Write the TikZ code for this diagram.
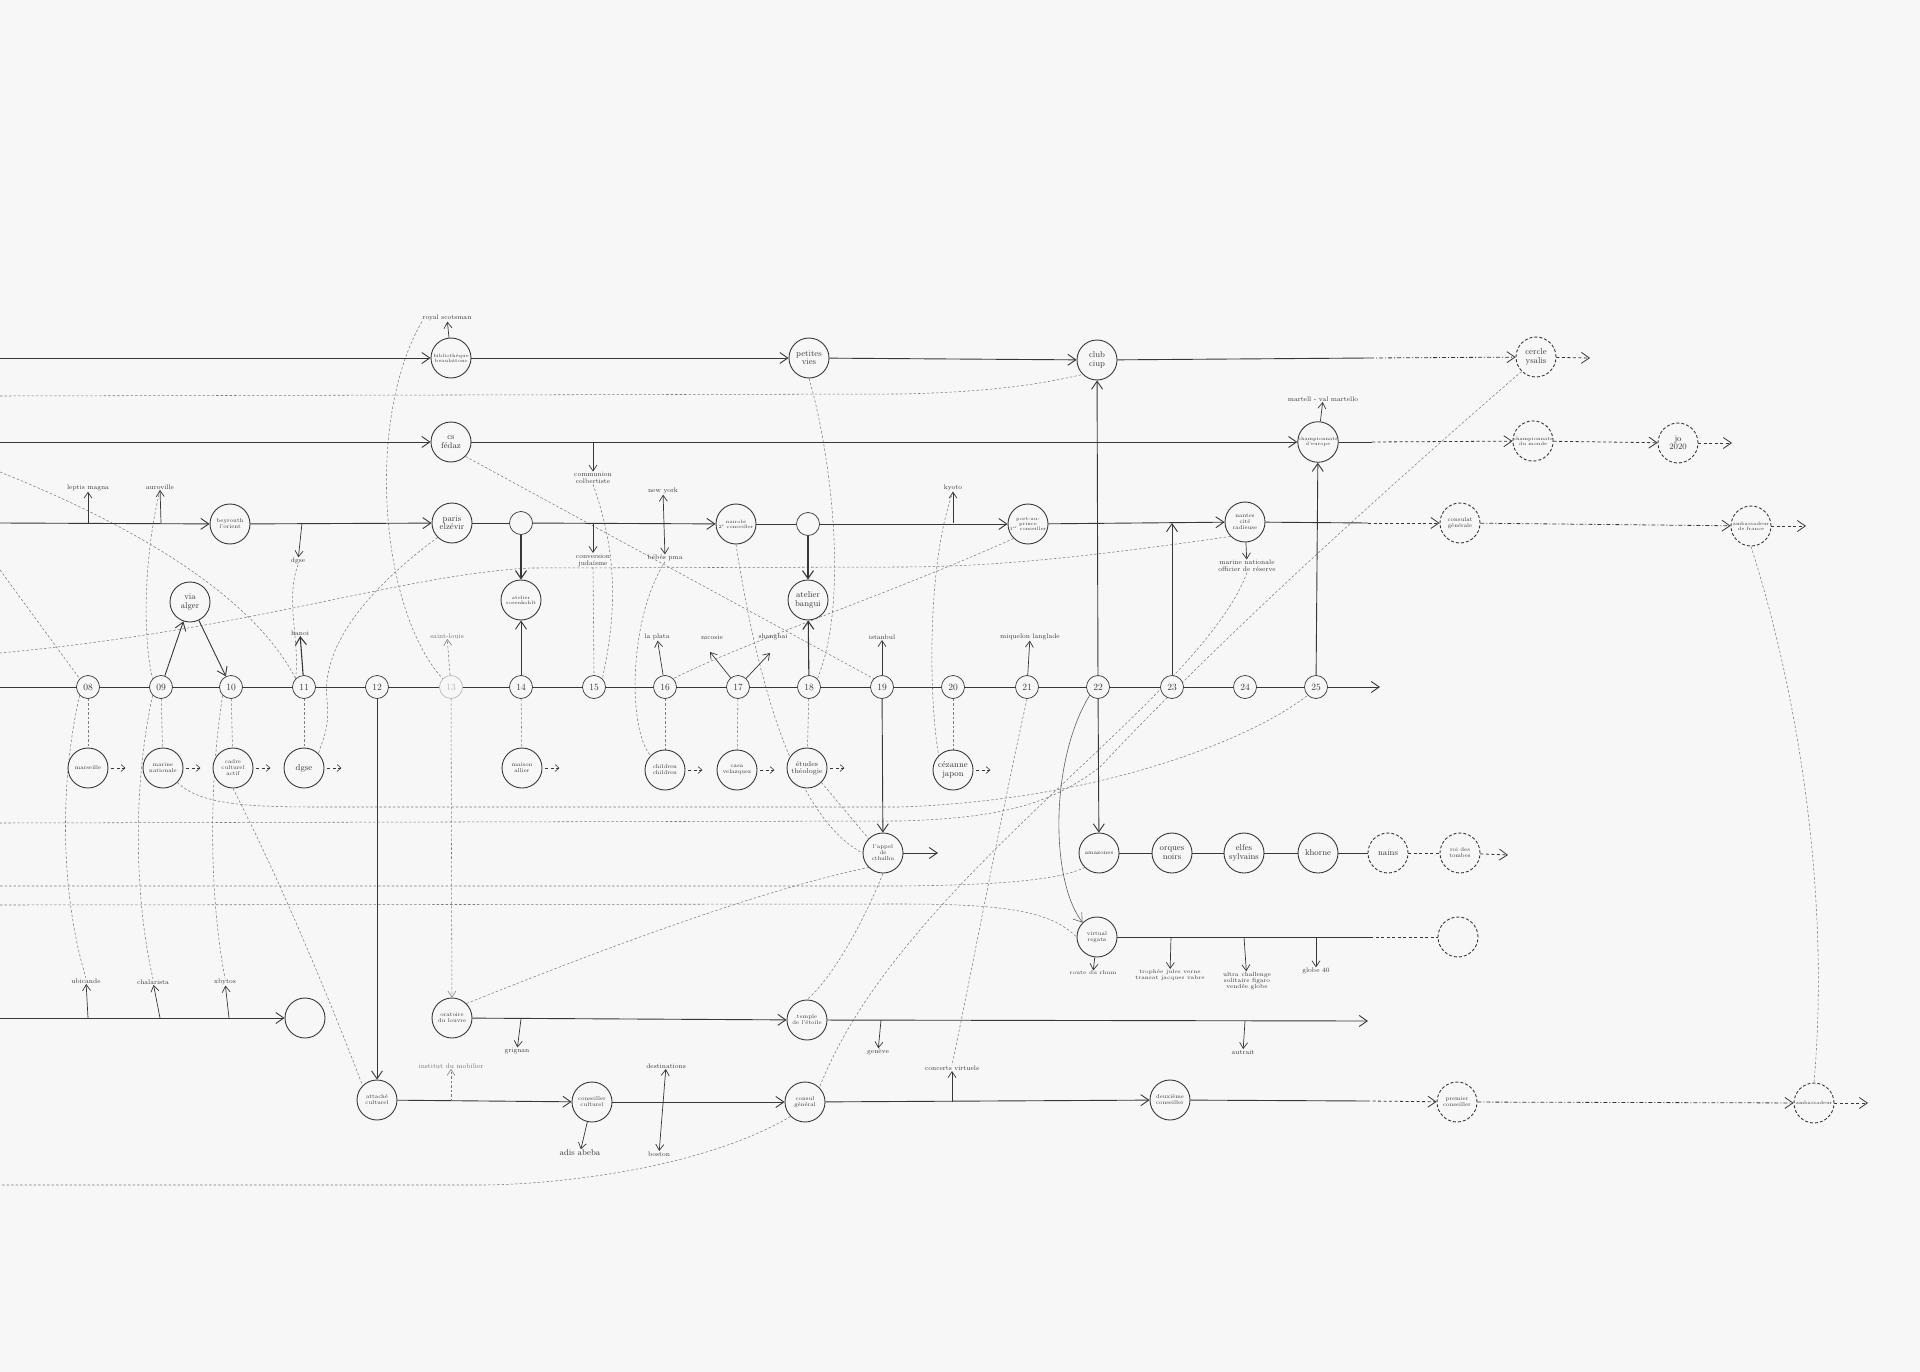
\documentclass[tikz,border=0pt]{standalone}
\usepackage{fontspec}
\usetikzlibrary{arrows.meta,calc}
\definecolor{ink}{RGB}{55,55,55}
\definecolor{faint}{RGB}{125,125,125}
\definecolor{paper}{RGB}{247,247,247}
\pgfdeclarelayer{bg}
\pgfsetlayers{bg,main}
\tikzset{
 ln/.style={draw=ink, line width=0.9pt},
 ar/.style={ln, -{Straight Barb[length=8pt,width=11pt]}},
 sar/.style={draw=ink, line width=0.7pt, -{Straight Barb[length=6pt,width=8pt]}},
 dar/.style={draw=ink, line width=0.7pt, {Straight Barb[length=6pt,width=8pt]}-{Straight Barb[length=6pt,width=8pt]}},
 big/.style={circle, draw=ink, line width=0.9pt, minimum size=40pt, inner sep=0pt, align=center, fill=paper, text=ink, font=\fontsize{8.5}{8.5}\selectfont},
 sbig/.style={big, font=\fontsize{5.6}{6}\selectfont},
 xbig/.style={big, font=\fontsize{4.8}{5.2}\selectfont},
 dbig/.style={big, dash pattern=on 3pt off 2pt},
 sdbig/.style={sbig, dash pattern=on 3pt off 2pt},
 xdbig/.style={xbig, dash pattern=on 3pt off 2pt},
 tk/.style={circle, draw=ink, line width=0.7pt, minimum size=23pt, inner sep=0pt, fill=paper, text=ink, font=\fontsize{9.5}{9.5}\selectfont},
 lb/.style={font=\fontsize{6.6}{7}\selectfont, inner sep=0.5pt, align=center, text=ink},
 fd/.style={draw=faint, line width=0.55pt, dash pattern=on 2.5pt off 2pt},
 fda/.style={fd, -{Straight Barb[length=6pt,width=8pt]}},
 dd/.style={draw=ink, line width=0.8pt, dash pattern=on 4pt off 2pt on 1pt off 2pt},
 dsh/.style={draw=ink, line width=0.8pt, dash pattern=on 3pt off 2.5pt},
 ddar/.style={dd, -{Straight Barb[length=8pt,width=11pt]}},
 dshar/.style={dsh, -{Straight Barb[length=8pt,width=11pt]}},
 mini/.style={dsh, line width=0.6pt, -{Straight Barb[length=4pt,width=7pt]}},
}
\begin{document}
\begin{tikzpicture}[x=1pt,y=-1pt]
\useasboundingbox (0,0) rectangle (1920,1372);
% ---------------- row A
\node[xbig] (bib) at (451,358) {bibliothèque\\beaubâtons};
\node[lb] (royal) at (447,318) {royal scotsman};
\node[big] (petites) at (809,358) {petites\\vies};
\node[big] (club) at (1097,360) {club\\ciup};
\node[dbig] (ysalis) at (1536,357) {cercle\\ysalis};
\coordinate (a0) at (0,358);
\coordinate (asw) at (1370,358);
\coordinate (aend) at (1590,358);
\coordinate (b0) at (0,396);
% ---------------- row C
\node[big] (csf) at (451,442) {cs\\fédaz};
\node[xbig] (champeu) at (1318,442) {championnats\\d'europe};
\node[lb] (martello) at (1323,399) {martell - val martello};
\node[xdbig] (champmo) at (1533,441) {championnats\\du monde};
\node[dbig] (jo) at (1678,443) {jo\\2020};
\coordinate (c0) at (0,442);
\coordinate (csw) at (1372,442);
\coordinate (cend) at (1732,443);
\coordinate (ccom) at (593,442);
\node[lb] (communion) at (593,478) {communion\\colbertiste};
% ---------------- row D
\coordinate (d0) at (0,523);
\node[lb] (leptis) at (88,488) {leptis magna};
\coordinate (dlep) at (88,523);
\node[lb] (auro) at (160,487) {auroville};
\coordinate (daur) at (161,523);
\node[sbig] (beyrouth) at (230,524) {beyrouth\\l'orient};
\coordinate (ddg) at (302,523);
\node[lb] (dgsel) at (298,561) {dgse};
\node[big] (paris) at (452,523) {paris\\elzévir};
\node[tk] (e1) at (521,523) {};
\coordinate (dconv) at (593,523);
\node[lb] (conversion) at (593,560) {conversion\\judaïsme};
\node[lb] (newyork) at (663,491) {new york};
\node[lb] (pma) at (665,558) {bébés pma};
\node[xbig] (nairobi) at (736,524) {nairobi\\2\textsuperscript{e} conseiller};
\node[tk] (e2) at (808,524) {};
\node[lb] (kyoto) at (953,488) {kyoto};
\coordinate (dkyo) at (953,523);
\node[xbig] (port) at (1028,524) {port-au-\\prince\\1\textsuperscript{er} conseiller};
\coordinate (d23) at (1172,523);
\node[sbig] (nantes) at (1245,522) {nantes\\cité\\radieuse};
\node[lb] (marinel) at (1247,566) {marine nationale\\officier de réserve};
\coordinate (dsw) at (1368,523);
\node[sdbig] (consulat) at (1460,523) {consulat\\générale};
\node[xdbig] (ambfr) at (1751,526) {ambassadeur\\de france};
\coordinate (dend) at (1806,526);
% ---------------- timeline
\coordinate (e0) at (0,687);
\coordinate (eend) at (1380,687);
\foreach \n/\x in {08/88,09/161,10/231,11/304,12/377,14/521,15/594,16/665,17/738,18/809,19/882,20/953,21/1027,22/1098,23/1172,24/1245,25/1316}
  \node[tk] (t\n) at (\x,687) {\n};
\node[tk, draw=ink!35, text=ink!35] (t13) at (451,687) {13};
% above timeline
\node[big] (alger) at (190,602) {via\\alger};
\node[lb] (hanoi) at (300,633) {hanoi};
\node[lb, text=ink!70] (stlouis) at (447,636) {saint-louis};
\node[xbig] (atelier1) at (521,600) {atelier\\rosenkohlt};
\node[lb] (laplata) at (657,637) {la plata};
\node[lb] (nicosie) at (712,637) {nicosie};
\coordinate (tnic) at (710,652);
\node[lb] (shanghai) at (773,637) {shanghai};
\coordinate (tsha) at (770,653);
\node[big] (atelier2) at (808,600) {atelier\\bangui};
\node[lb] (istanbul) at (882,637) {istanbul};
\node[lb] (miquelon) at (1030,637) {miquelon langlade};
% row F
\node[sbig] (marseille) at (88,768) {marseille};
\node[sbig] (marnat) at (163,768) {marine\\nationale};
\node[sbig] (cadre) at (233,768) {cadre\\culturel\\actif};
\node[big] (dgse2) at (304,768) {dgse};
\node[sbig] (maison) at (522,768) {maison\\allier};
\node[sbig] (children) at (665,770) {children\\children};
\node[sbig] (casa) at (737,770) {casa\\velazquez};
\node[sbig, font=\fontsize{7}{7.4}\selectfont] (etudes) at (807,768) {études\\théologie};
\node[big] (cezanne) at (953,770) {cézanne\\japon};
% cthulhu
\node[sbig] (cthulhu) at (883,853) {l'appel\\de\\cthulhu};
\coordinate (cthend) at (938,853);
% row G
\node[sbig] (amazones) at (1099,853) {amazones};
\node[big] (orques) at (1172,853) {orques\\noirs};
\node[big] (elfes) at (1244,853) {elfes\\sylvains};
\node[big] (khorne) at (1318,853) {khorne};
\node[dbig] (nains) at (1388,853) {nains};
\node[sdbig] (roi) at (1460,853) {roi des\\tombes};
\coordinate (gend) at (1508,855);
% row H
\node[sbig] (virtual) at (1097,937) {virtual\\regata};
\coordinate (hsw) at (1370,937);
\node[dbig] (dblc) at (1458,937) {};
\coordinate (htro) at (1171,937);
\coordinate (hult) at (1244,937);
\coordinate (hglo) at (1316,937);
\node[lb, font=\fontsize{5.4}{5.8}\selectfont] (rhum) at (1093,973) {route du rhum};
\node[lb, font=\fontsize{5.4}{5.8}\selectfont] (trophee) at (1170,975) {trophée jules verne\\transat jacques vabre};
\node[lb, font=\fontsize{6}{6.3}\selectfont] (ultra) at (1247,981) {ultra\enspace challenge\\solitaire figaro\\vendée globe};
\node[lb] (globe) at (1316,971) {globe 40};
% row I
\coordinate (i0) at (0,1018);
\node[circle, draw=ink, line width=0.9pt, minimum size=40pt, fill=paper] (final) at (305,1018) {};
\node[lb] (ubicande) at (86,981) {ubicande};
\node[lb] (chalar) at (153,982) {chalarista};
\node[lb] (xbytos) at (225,982) {xbytos};
\coordinate (iu) at (88,1018);
\coordinate (ic) at (160,1018);
\coordinate (ix) at (229,1018);
% row J
\node[sbig] (oratoire) at (452,1018) {oratoire\\du louvre};
\node[sbig] (temple) at (807,1020) {temple\\de l'étoile};
\coordinate (jend) at (1368,1021);
\coordinate (jgri) at (521,1019);
\coordinate (jgen) at (881,1020);
\coordinate (jaut) at (1245,1021);
\node[lb] (grignan) at (517,1051) {grignan};
\node[lb] (geneve) at (878,1052) {genève};
\node[lb] (autrait) at (1243,1052) {autrait};
% row K
\node[sbig] (attache) at (377,1100) {attaché\\culturel};
\coordinate (kins) at (451,1101);
\node[lb, text=ink!70] (institut) at (451,1066) {institut du mobilier};
\node[sbig] (conseiller) at (592,1102) {conseiller\\culturel};
\node[lb, font=\fontsize{8.5}{9}\selectfont] (adis) at (580,1153) {adis abeba};
\node[lb] (destinations) at (666,1066) {destinations};
\node[lb] (boston) at (659,1154) {boston};
\node[sbig] (consul) at (805,1102) {consul\\général};
\coordinate (kcon) at (952,1102);
\node[lb] (concerts) at (952,1068) {concerts virtuels};
\node[sbig] (deuxieme) at (1170,1100) {deuxième\\conseiller};
\coordinate (ksw) at (1367,1101);
\node[sdbig] (premier) at (1457,1102) {premier\\conseiller};
\node[xdbig] (amb) at (1814,1103) {ambassadeur};
\coordinate (kend) at (1868,1103);

\begin{pgfonlayer}{bg}
\fill[paper] (0,0) rectangle (1920,1372);
% ---------- faint links
\draw[fd] (royal.south west) .. controls (365,420) and (380,610) .. (t13.north west);
\draw[fd] (petites.south) .. controls (830,450) and (850,600) .. (t18.north east);
\draw[fd] (csf.south east) -- (t19.north west);
\draw[fd] (nantes.south west) .. controls (1100,555) and (1000,567) .. (900,567) -- (530,568) .. controls (400,575) and (250,630) .. (0,653);
\draw[fd] (paris.south west) .. controls (380,580) and (320,640) .. (327,700) .. controls (330,730) and (322,740) .. (dgse2.north east);
\draw[fd] (dgsel.south) .. controls (285,600) and (300,640) .. (t11.north west);
\draw[fd] (0,472) .. controls (120,520) and (250,590) .. (t11.north west);
\draw[fd] (0,570) -- (t08.north west);
\draw[fd] (auro.south) .. controls (143,560) and (143,640) .. (t09.north west);
\draw[fd] (communion.south) .. controls (620,560) and (615,620) .. (t15.north east);
\draw[fd] (conversion.south) -- (t15.north);
\draw[fd] (pma.south) .. controls (628,620) and (628,730) .. (children.north west);
\draw[fd] (port.south west) .. controls (900,590) and (750,640) .. (t16.north east);
\draw[fd] (kyoto.south) .. controls (928,560) and (928,690) .. (cezanne.north west);
\draw[fd] (nairobi.south) .. controls (760,700) and (800,820) .. (cthulhu.west);
\draw[fd] (etudes.south east) -- (cthulhu.north west);
\draw[fd] (marnat.south east) .. controls (200,805) and (250,807) .. (320,807) -- (900,807) .. controls (1100,800) and (1250,740) .. (t25.south west);
\draw[fd] (ysalis.south west) .. controls (1350,520) and (1200,660) .. (1100,767) .. controls (1050,805) and (1000,818) .. (900,821) -- (0,823);
\draw[fd] (0,886) -- (900,886) .. controls (1000,885) and (1060,880) .. (amazones.south west);
\draw[fd] (0,905) -- (900,904) .. controls (1000,904) and (1050,910) .. (virtual.west);
\draw[fd] (marinel.south) .. controls (1200,700) and (900,880) .. (consul.north east);
\draw[fd] (t21.south) .. controls (1000,820) and (970,980) .. (concerts.north);
\draw[fd] (cthulhu.south) .. controls (860,930) and (830,980) .. (temple.north);
\draw[fd] (oratoire.north east) .. controls (600,950) and (760,890) .. (cthulhu.south west);
\draw[fd] (consul.south west) .. controls (700,1170) and (550,1185) .. (480,1185) -- (0,1185);
\draw[fd] (cadre.south) .. controls (280,880) and (330,1000) .. (attache.north west);
\draw[fd] (t08.south west) .. controls (58,790) and (62,900) .. (ubicande.north);
\draw[fd] (t09.south west) .. controls (132,790) and (135,900) .. (chalar.north);
\draw[fd] (t10.south west) .. controls (208,790) and (210,900) .. (xbytos.north);
\draw[fd] (ambfr.south) .. controls (1800,700) and (1830,900) .. (amb.north);
\draw[fd] (b0) -- (900,394) .. controls (1000,392) and (1050,382) .. (club.south west);
% dashed links from ticks
\draw[fd] (t08) -- (marseille);
\draw[fd] (t09) -- (marnat);
\draw[fd] (t10) -- (cadre);
\draw[fd] (t11) -- (dgse2);
\draw[fd] (t14) -- (maison);
\draw[fd] (t16) -- (children);
\draw[fd] (t17) -- (casa);
\draw[fd] (t18) -- (etudes);
\draw[fd] (t20) -- (cezanne);
\draw[fda] (t13) -- (oratoire);
\draw[fda] (t13) -- (stlouis);
% ---------- row A
\draw[ar] (a0) -- (bib);
\draw[ar] (bib) -- (petites);
\draw[ar] (petites) -- (club);
\draw[ln] (club) -- (asw);
\draw[ddar] (asw) -- (ysalis);
\draw[dshar] (ysalis) -- (aend);
\draw[sar] (bib) -- (royal);
% ---------- row C
\draw[ar] (c0) -- (csf);
\draw[ar] (csf) -- (champeu);
\draw[ln] (champeu) -- (csw);
\draw[dshar] (csw) -- (champmo);
\draw[dshar] (champmo) -- (jo);
\draw[dshar] (jo) -- (cend);
\draw[sar] (champeu) -- (martello);
\draw[sar] (ccom) -- (communion);
% ---------- row D
\draw[ar] (d0) -- (beyrouth);
\draw[ar] (beyrouth) -- (paris);
\draw[ln] (paris) -- (e1);
\draw[ar] (e1) -- (nairobi);
\draw[ln] (nairobi) -- (e2);
\draw[ar] (e2) -- (port);
\draw[ar] (port) -- (nantes);
\draw[ln] (nantes) -- (dsw);
\draw[dshar] (dsw) -- (consulat);
\draw[ddar] (consulat) -- (ambfr);
\draw[dshar] (ambfr) -- (dend);
\draw[sar] (dlep) -- (leptis);
\draw[sar] (daur) -- (auro);
\draw[sar] (ddg) -- (dgsel);
\draw[sar] (dconv) -- (conversion);
\draw[dar] (pma) -- (newyork);
\draw[sar] (dkyo) -- (kyoto);
\draw[sar] (nantes) -- (marinel);
\draw[ar, line width=1.1pt] (e1) -- (atelier1);
\draw[ar, line width=1.1pt] (e2) -- (atelier2);
% ---------- timeline
\draw[ar] (e0) -- (eend);
\draw[ar] (t09) -- (alger);
\draw[ar] (alger) -- (t10);
\draw[ar, line width=1.1pt] (t11) -- (hanoi);
\draw[ar] (t14) -- (atelier1);
\draw[sar] (t16) -- (laplata);
\draw[sar] (t17) -- (tnic);
\draw[sar] (t17) -- (tsha);
\draw[ar, line width=1.1pt] (t18) -- (atelier2);
\draw[sar] (t19) -- (istanbul);
\draw[sar] (t21) -- (miquelon);
\draw[ar] (t22) -- (club);
\draw[ar] (t25) -- (champeu);
\draw[ar] (t23) -- (d23);
\draw[ar] (t19) -- (cthulhu);
\draw[ar] (cthulhu) -- (cthend);
\draw[ar] (t22) -- (amazones);
\draw[ar] (t12) -- (attache);
% mini arrows row F
\foreach \m in {marseille,marnat,cadre,dgse2,maison,children,casa,etudes,cezanne}
  \draw[mini] ([xshift=3pt]\m.east) -- ([xshift=17pt]\m.east);
% ---------- row G
\draw[ln] (amazones) -- (orques);
\draw[ln] (orques) -- (elfes);
\draw[ln] (elfes) -- (khorne);
\draw[ln] (khorne) -- (nains);
\draw[dsh] (nains) -- (roi);
\draw[dshar] (roi) -- (gend);
% ---------- row H
\draw[draw=ink!80, line width=0.6pt, -{Straight Barb[length=8pt,width=11pt]}] (t22.south west) .. controls (1050,760) and (1050,880) .. (virtual.north west);
\draw[ln] (virtual) -- (hsw);
\draw[dsh] (hsw) -- (dblc);
\draw[dsh] (dblc.center) circle (12);
\draw[sar] (virtual) -- (rhum);
\draw[sar] (htro) -- (trophee);
\draw[sar] (hult) -- (ultra);
\draw[sar] (hglo) -- (globe);
% ---------- row I
\draw[ar] (i0) -- (final);
\draw[ln] (final.center) circle (12);
\draw[sar] (iu) -- (ubicande);
\draw[sar] (ic) -- (chalar);
\draw[sar] (ix) -- (xbytos);
% ---------- row J
\draw[ar] (oratoire) -- (temple);
\draw[ar] (temple) -- (jend);
\draw[sar] (jgri) -- (grignan);
\draw[sar] (jgen) -- (geneve);
\draw[sar] (jaut) -- (autrait);
% ---------- row K
\draw[ar] (attache) -- (conseiller);
\draw[ar] (conseiller) -- (consul);
\draw[ar] (consul) -- (deuxieme);
\draw[ln] (deuxieme) -- (ksw);
\draw[dshar] (ksw) -- (premier);
\draw[ddar] (premier) -- (amb);
\draw[dshar] (amb) -- (kend);
\draw[fda] (kins) -- (institut);
\draw[sar] (conseiller) -- (adis);
\draw[dar] (boston) -- (destinations);
\draw[sar] (kcon) -- (concerts);
\end{pgfonlayer}
\end{tikzpicture}
\end{document}
